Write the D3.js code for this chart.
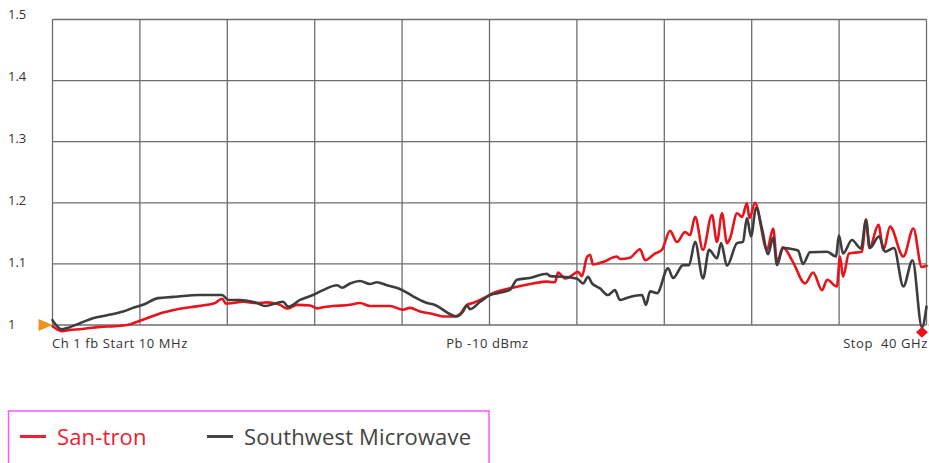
<!DOCTYPE html>
<html><head><meta charset="utf-8">
<script src="https://cdn.jsdelivr.net/npm/d3@7"></script>
<style>
html,body{margin:0;padding:0;background:#fff;}
svg{display:block;}
text{font-family:"Open Sans","Lato",sans-serif;}
</style></head>
<body>
<svg id="chart" width="929" height="463"></svg>
<script>
// ---- data (frequency in GHz, VSWR value) ----
const seriesNames = ["San-tron", "Southwest Microwave"];
const seriesColors = ["#e8141b", "#3d3d3d"];
const santronFreq = [0,0.21,0.43,0.80,1.26,2.17,2.86,3.41,3.78,4.32,4.92,5.61,6.29,7.07,7.44,7.76,7.94,8.26,8.72,9.36,9.82,10.09,10.41,10.73,10.87,11.19,11.79,12.11,12.38,12.84,13.62,14.07,14.53,15.45,16.04,16.36,16.82,17.41,17.87,18.42,18.65,18.97,19.25,19.57,19.89,20.16,20.48,20.94,21.40,21.99,22.63,23.00,23.14,23.46,23.68,24.05,24.23,24.46,24.60,24.74,25.19,25.84,25.97,26.43,26.89,27.12,27.57,27.89,28.26,28.58,28.95,29.18,29.41,29.77,30.18,30.41,30.64,30.87,31.01,31.33,31.56,31.78,31.90,32.15,32.70,32.98,33.16,33.43,33.89,34.44,34.81,35.22,35.45,35.90,36.04,36.18,36.45,37.05,37.23,37.39,37.80,38.03,38.33,38.94,39.40,39.78,40.00];
const santronVals = [0.998,0.993,0.990,0.992,0.993,0.997,0.998,1.000,1.004,1.011,1.019,1.025,1.029,1.033,1.036,1.043,1.035,1.036,1.038,1.036,1.037,1.036,1.033,1.027,1.028,1.033,1.032,1.027,1.029,1.031,1.033,1.036,1.031,1.031,1.025,1.028,1.022,1.018,1.014,1.014,1.018,1.033,1.036,1.041,1.047,1.052,1.056,1.060,1.064,1.068,1.071,1.070,1.086,1.076,1.079,1.087,1.080,1.111,1.115,1.099,1.103,1.112,1.108,1.110,1.124,1.106,1.117,1.123,1.154,1.136,1.152,1.147,1.177,1.123,1.180,1.136,1.183,1.134,1.142,1.183,1.177,1.199,1.175,1.200,1.123,1.158,1.103,1.127,1.103,1.068,1.086,1.057,1.074,1.063,1.112,1.079,1.117,1.120,1.173,1.126,1.164,1.123,1.161,1.112,1.158,1.095,1.097];
const swFreq = [0,0.16,0.42,0.66,1.26,1.85,2.49,3.23,3.68,4.14,4.83,5.51,6.75,7.76,8.05,8.26,8.58,9.36,9.73,10.27,10.55,10.79,11.33,11.92,12.38,13.02,13.25,13.62,14.07,14.53,14.85,15.31,15.90,16.50,17.14,17.41,18.51,18.79,18.97,19.11,19.57,20.02,20.62,20.94,21.26,21.85,22.63,22.77,23.36,24.00,24.28,24.51,24.69,25.06,25.42,25.74,25.97,26.43,26.98,27.16,27.35,27.67,28.17,28.40,28.86,29.13,29.41,29.77,30.05,30.41,30.60,30.87,31.33,31.60,31.78,31.97,32.20,32.47,32.75,32.98,33.16,33.43,33.89,34.12,34.35,34.67,35.45,35.86,35.99,36.18,36.59,37.00,37.23,37.41,37.83,38.10,38.51,38.94,39.36,39.79,40.00];
const swVals = [1.008,1.000,0.993,0.995,1.003,1.011,1.016,1.022,1.028,1.033,1.044,1.046,1.049,1.049,1.041,1.041,1.041,1.036,1.031,1.036,1.038,1.030,1.041,1.049,1.057,1.065,1.061,1.068,1.072,1.067,1.070,1.065,1.059,1.047,1.036,1.034,1.014,1.022,1.032,1.026,1.038,1.049,1.054,1.058,1.074,1.077,1.084,1.080,1.079,1.076,1.068,1.079,1.068,1.060,1.049,1.057,1.041,1.046,1.049,1.033,1.055,1.052,1.093,1.077,1.098,1.098,1.136,1.076,1.123,1.109,1.134,1.097,1.134,1.136,1.175,1.145,1.192,1.158,1.116,1.143,1.098,1.126,1.124,1.122,1.100,1.119,1.120,1.112,1.147,1.117,1.139,1.125,1.171,1.126,1.145,1.120,1.126,1.063,1.106,0.996,1.030];
const yTicks = [1, 1.1, 1.2, 1.3, 1.4, 1.5];
const xGridCount = 10;
const xLabels = ["Ch 1 fb Start 10 MHz", "Pb -10 dBmz", "Stop  40 GHz"];
const startMarkerVal = 1.0;
const stopMarker = {freq: 39.79, val: 0.988};

// ---- layout ----
const svg = d3.select("#chart");
const L = 52.5, R = 926.5, T = 19.5, B = 325;
const x = d3.scaleLinear().domain([0, 40]).range([L, R]);
const y = d3.scaleLinear().domain([1, 1.5]).range([B, T]);
const yLab = d3.scaleLinear().domain([1, 1.5]).range([324, 14]);

// grid
const g = svg.append("g");
g.selectAll("line.h").data(yTicks).join("line")
  .attr("x1", L).attr("x2", R).attr("y1", d => y(d)).attr("y2", d => y(d))
  .attr("stroke", "#6e6e6e").attr("stroke-width", 1.3);
g.selectAll("line.v").data(d3.range(xGridCount + 1).map(i => i * 40 / xGridCount)).join("line")
  .attr("y1", T).attr("y2", B).attr("x1", d => x(d)).attr("x2", d => x(d))
  .attr("stroke", "#6e6e6e").attr("stroke-width", 1.3);

// y labels
svg.selectAll("text.yl").data(yTicks).join("text")
  .attr("x", 8).attr("y", d => yLab(d)).attr("dy", "0.35em")
  .attr("font-size", 13).attr("fill", "#333")
  .text(d => d3.format("")(d));

// x labels
const xl = [
  {t: xLabels[0], x: 52, a: "start"},
  {t: xLabels[1], x: x(20) - 2, a: "middle"},
  {t: xLabels[2], x: 928, a: "end"}
];
svg.selectAll("text.xl").data(xl).join("text")
  .attr("x", d => d.x).attr("y", 348).attr("text-anchor", d => d.a)
  .attr("font-size", 13).attr("fill", "#333").attr("letter-spacing", 0.6)
  .style("white-space", "pre").text(d => d.t);

// lines
const line = d3.line().x(d => x(d[0])).y(d => y(d[1])).curve(d3.curveMonotoneX);
const series = [d3.zip(santronFreq, santronVals), d3.zip(swFreq, swVals)];
svg.selectAll("path.s").data(series).join("path")
  .attr("d", line).attr("fill", "none")
  .attr("stroke", (d, i) => seriesColors[i]).attr("stroke-width", 2.6)
  .attr("stroke-linejoin", "round").attr("stroke-linecap", "round");

// markers
svg.append("path")
  .attr("d", `M${L - 14},${y(startMarkerVal) - 6}L${L},${y(startMarkerVal)}L${L - 14},${y(startMarkerVal) + 6}Z`)
  .attr("fill", "#f0931c");
svg.append("path")
  .attr("d", `M${R + 1},${y(startMarkerVal)}L${R + 15},${y(startMarkerVal) - 6}L${R + 15},${y(startMarkerVal) + 6}Z`)
  .attr("fill", "#f0931c");
const sx = x(stopMarker.freq), sy = y(stopMarker.val);
svg.append("path")
  .attr("d", `M${sx},${sy - 5.5}L${sx + 6},${sy}L${sx},${sy + 5.5}L${sx - 6},${sy}Z`)
  .attr("fill", "#e8141b");

// legend
svg.append("rect").attr("x", 8.5).attr("y", 411).attr("width", 480.5).attr("height", 70)
  .attr("fill", "none").attr("stroke", "#ff55ff").attr("stroke-width", 1.5);
const legX = [20, 207];
seriesNames.forEach((n, i) => {
  svg.append("line").attr("x1", legX[i]).attr("x2", legX[i] + 26).attr("y1", 436.5).attr("y2", 436.5)
    .attr("stroke", i === 0 ? "#f02030" : "#444").attr("stroke-width", 3);
  svg.append("text").attr("x", legX[i] + 37).attr("y", 444.5).attr("font-size", 22)
    .attr("letter-spacing", 0.15)
    .attr("fill", i === 0 ? "#f02030" : "#444").text(n);
});
</script>
</body></html>
